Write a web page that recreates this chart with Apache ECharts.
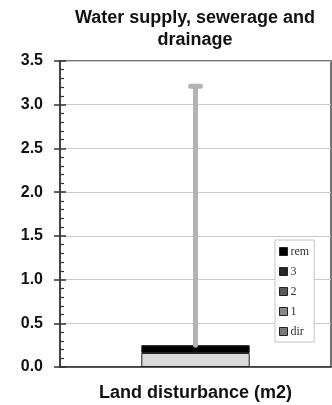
<!DOCTYPE html>
<html>
<head>
<meta charset="utf-8">
<script src="https://cdn.jsdelivr.net/npm/echarts@6/dist/echarts.min.js"></script>
<style>
  html, body { margin: 0; padding: 0; background: #fff; }
  #chart { width: 332px; height: 405px; }
</style>
</head>
<body>
<div id="chart"></div>
<script>
// Land disturbance (m2) for water supply, sewerage and drainage
const categories = ['Land disturbance (m2)'];
const dirValues = [0.16];
const tier1Values = [0];
const tier2Values = [0];
const tier3Values = [0];
const remValues = [0.09];
const upperValues = [3.21];
const yTicks = ['0.0', '0.5', '1.0', '1.5', '2.0', '2.5', '3.0', '3.5'];

const stackParts = [
  { name: 'dir', values: dirValues, color: '#d9d9d9', legendColor: '#7a7a7a' },
  { name: '1', values: tier1Values, color: '#8a8a8a', legendColor: '#8a8a8a' },
  { name: '2', values: tier2Values, color: '#5a5a5a', legendColor: '#5a5a5a' },
  { name: '3', values: tier3Values, color: '#262626', legendColor: '#262626' },
  { name: 'rem', values: remValues, color: '#000000', legendColor: '#000000' }
];

const totals = categories.map((_, i) =>
  stackParts.reduce((s, p) => s + p.values[i], 0));

const chart = echarts.init(document.getElementById('chart'), null, { renderer: 'canvas' });

const barSeries = stackParts.map(p => ({
  name: p.name,
  type: 'bar',
  stack: 'total',
  barWidth: '40%',
  data: p.values,
  itemStyle: { color: p.color, borderColor: '#222', borderWidth: p.values[0] > 0 ? 1 : 0 },
  emphasis: { disabled: true },
  z: 2
}));

const errorSeries = {
  type: 'custom',
  name: 'range',
  data: categories.map((c, i) => [i, totals[i], upperValues[i]]),
  renderItem: function (params, api) {
    const lo = api.coord([api.value(0), api.value(1)]);
    const hi = api.coord([api.value(0), api.value(2)]);
    const style = { stroke: '#b3b3b3', lineWidth: 5, lineCap: 'round' };
    return {
      type: 'group',
      children: [
        { type: 'line', shape: { x1: lo[0], y1: lo[1], x2: hi[0], y2: hi[1] }, style: style },
        { type: 'line', shape: { x1: hi[0] - 5, y1: hi[1], x2: hi[0] + 5, y2: hi[1] }, style: style }
      ]
    };
  },
  z: 3
};

const sans = 'Liberation Sans, Arial, sans-serif';

chart.setOption({
  animation: false,
  backgroundColor: '#fff',
  title: {
    text: 'Water supply, sewerage and\ndrainage',
    left: 190,
    top: 2,
    textAlign: 'center',
    textStyle: {
      fontFamily: sans,
      fontWeight: 'bold',
      fontSize: 18,
      lineHeight: 22,
      color: '#111'
    }
  },
  legend: {
    orient: 'vertical',
    left: 275,
    top: 240,
    padding: [5, 5, 4, 4],
    itemWidth: 8,
    itemHeight: 8,
    itemGap: 7,
    backgroundColor: '#fff',
    borderColor: '#c4c4c4',
    borderWidth: 1,
    selectedMode: false,
    icon: 'rect',
    textStyle: {
      fontFamily: 'Liberation Serif, Times New Roman, serif',
      fontSize: 12,
      lineHeight: 13,
      color: '#333',
      padding: [0, 0, 0, -2]
    },
    data: ['rem', '3', '2', '1', 'dir'].map(n => {
      const p = stackParts.find(s => s.name === n);
      return { name: n, itemStyle: { color: p.legendColor, borderColor: '#222', borderWidth: 1 } };
    })
  },
  grid: {
    left: 60,
    right: 1,
    top: 61,
    bottom: 38,
    outerBoundsMode: 'none',
    containLabel: false,
    show: true,
    borderColor: '#444',
    borderWidth: 1.5,
    backgroundColor: '#fff'
  },
  xAxis: {
    type: 'category',
    data: categories,
    name: categories[0],
    nameLocation: 'middle',
    nameGap: 17,
    nameTextStyle: {
      fontFamily: sans,
      fontWeight: 'bold',
      fontSize: 18,
      color: '#111'
    },
    axisLine: { lineStyle: { color: '#333', width: 1.5 } },
    axisTick: { show: false },
    axisLabel: { show: false }
  },
  yAxis: [
    {
      type: 'value',
      min: 0,
      max: 3.5,
      interval: 0.5,
      axisLine: { show: true, lineStyle: { color: '#333', width: 1.5 } },
      axisTick: { show: true, length: 6, lineStyle: { color: '#333', width: 1.5 } },
      axisLabel: {
        margin: 17,
        fontFamily: sans,
        fontWeight: 'bold',
        fontSize: 16,
        color: '#111',
        formatter: (v) => yTicks[Math.round(v / 0.5)]
      },
      splitLine: { show: true, lineStyle: { color: '#c8c8c8', width: 1 } }
    },
    {
      type: 'value',
      position: 'left',
      min: 0,
      max: 3.5,
      interval: 0.5,
      axisLine: { show: false },
      axisTick: { show: true, inside: true, length: 6, lineStyle: { color: '#333', width: 1.5 } },
      minorTick: { show: true, splitNumber: 5, length: 4, lineStyle: { color: '#333', width: 1.2 } },
      axisLabel: { show: false },
      splitLine: { show: false }
    }
  ],
  series: barSeries.concat([errorSeries])
});
</script>
</body>
</html>
